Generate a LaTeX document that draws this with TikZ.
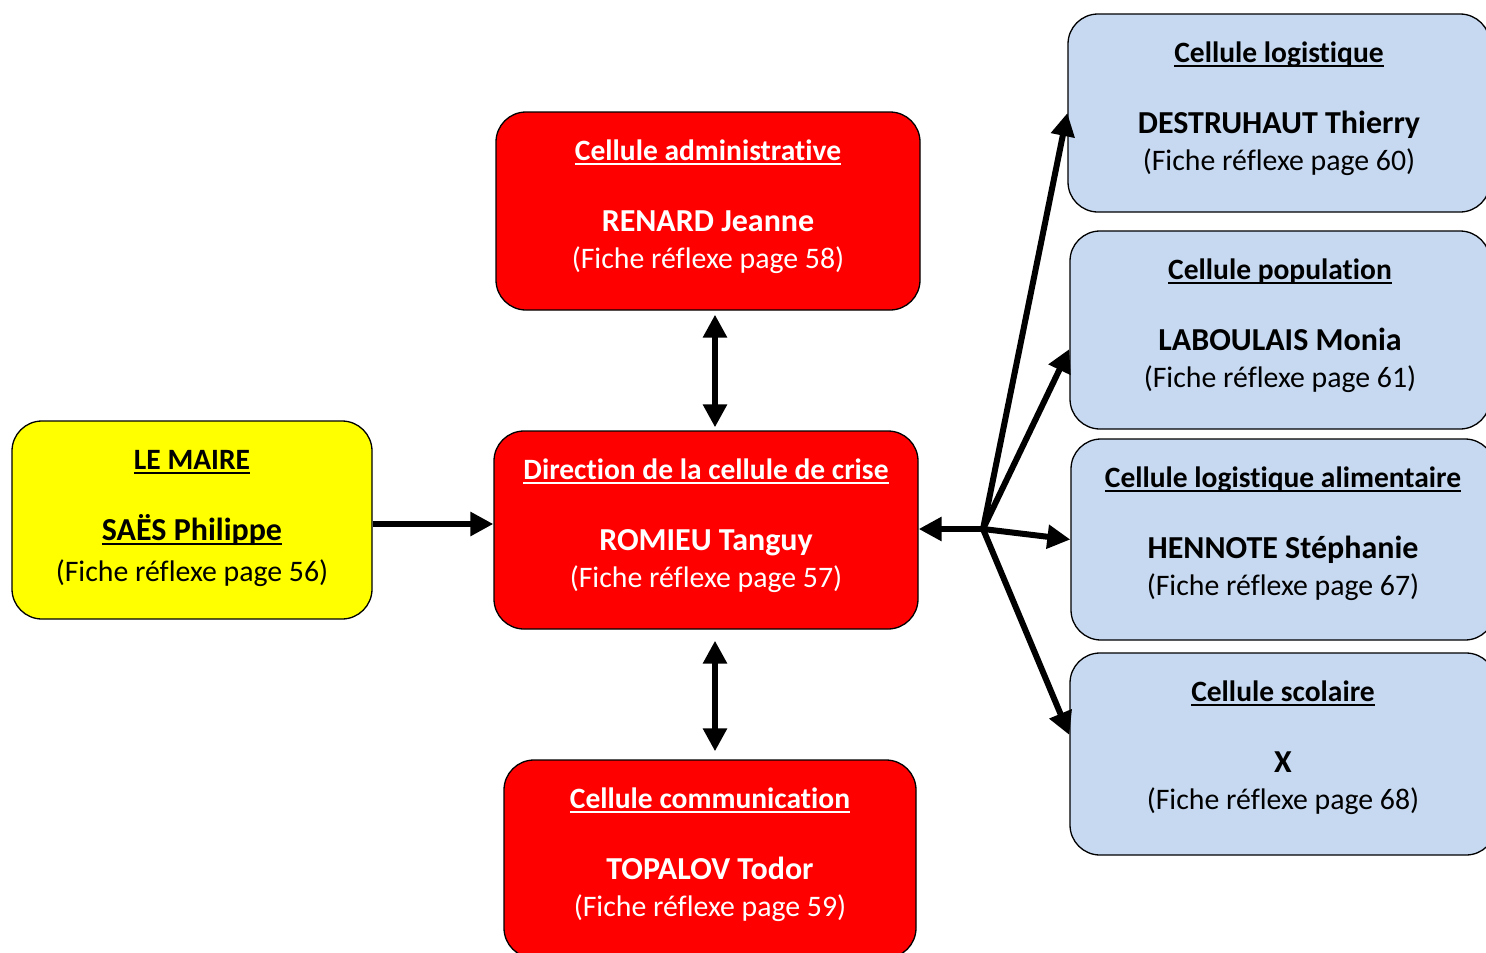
\documentclass[tikz,border=0pt]{standalone}
\usepackage{fontspec}
\setmainfont{Carlito}[Ligatures={NoCommon,NoContextual,NoRequired},Contextuals=NoAlternate]
\usetikzlibrary{arrows.meta}
\definecolor{cellred}{RGB}{255,0,0}
\definecolor{cellyellow}{RGB}{255,255,0}
\definecolor{cellblue}{RGB}{198,217,241}
\newcommand\myul[1]{\setbox0\hbox{#1}\rlap{\rule[-4.5pt]{\wd0}{2pt}}\box0}
\tikzset{
  bigtri/.tip={Triangle[length=23pt,width=23pt]},
  cellbox/.style={draw=black, line width=1.3pt, rounded corners=30pt, inner sep=0pt},
  red box/.style={fill=cellred}, red text/.style={text=white},
  yellow box/.style={fill=cellyellow}, yellow text/.style={text=black},
  blue box/.style={fill=cellblue}, blue text/.style={text=black},
  titletxt/.style={anchor=base, inner sep=0pt, font=\fontsize{29.5}{34}\selectfont\bfseries},
  nametxt/.style={anchor=base, inner sep=0pt, font=\fontsize{32}{36}\selectfont\bfseries},
  fichetxt/.style={anchor=base, inner sep=0pt, font=\fontsize{29.8}{34}\selectfont},
  arr/.style={line width=6.5pt, -bigtri},
  darr/.style={line width=6.5pt, bigtri-bigtri},
  fan/.style={line width=6pt, -bigtri}
}
% name, colour, centre x, top, width, height, title, person, fiche
\newcommand\mycell[9]{%
  \node[cellbox, #2 box, minimum width=#5pt, minimum height=#6pt] (#1) at (#3,{#4+#6/2}) {};
  \node[titletxt, #2 text] (#1-t) at (#3,{#4+48}) {\myul{#7}};
  \node[nametxt, #2 text] (#1-n) at (#3,{#4+119}) {#8};
  \node[fichetxt, #2 text] (#1-f) at (#3,{#4+156}) {#9};
}
\begin{document}
\begin{tikzpicture}[x=1pt,y=-1pt]
\useasboundingbox (0,0) rectangle (1486,953);
\clip (0,0) rectangle (1486,953);
\mycell{maire}{yellow}{192}{421}{360}{198}{LE MAIRE}{\myul{SAËS Philippe}}{\raisebox{-4pt}{(Fiche réflexe page 56)}}
\mycell{admin}{red}{708}{112}{424}{198}{Cellule administrative}{RENARD Jeanne}{(Fiche réflexe page 58)}
\mycell{dir}{red}{706}{431}{424}{198}{Direction de la cellule de crise}{ROMIEU Tanguy}{(Fiche réflexe page 57)}
\mycell{comm}{red}{710}{760}{412}{198}{Cellule communication}{TOPALOV Todor}{(Fiche réflexe page 59)}
\mycell{log}{blue}{1279}{14}{422}{198}{Cellule logistique}{DESTRUHAUT Thierry}{(Fiche réflexe page 60)}
\mycell{pop}{blue}{1280}{231}{420}{198}{Cellule population}{LABOULAIS Monia}{(Fiche réflexe page 61)}
\mycell{alim}{blue}{1283}{439}{424}{201}{Cellule logistique alimentaire}{HENNOTE Stéphanie}{(Fiche réflexe page 67)}
\mycell{scol}{blue}{1283}{653}{426}{202}{Cellule scolaire}{X}{(Fiche réflexe page 68)}
% connectors
\draw[arr] ([yshift=-4pt]maire.east) -- ([yshift=-4pt]maire.east -| dir.west);
\draw[darr, shorten <=4pt, shorten >=3pt] ([xshift=7pt]admin.south) -- ([xshift=7pt]admin.south |- dir.north);
\draw[darr, shorten <=11pt, shorten >=8pt] ([xshift=9pt]dir.south) -- ([xshift=9pt]dir.south |- comm.north);
\coordinate (hub) at (983,529);
\draw[arr] (hub) -- (hub -| dir.east);
\draw[fan] (hub) -- (log.west);
\draw[fan] (hub) -- ([yshift=-19pt]pop.west);
\draw[fan] (hub) -- (alim.west);
\draw[fan] (hub) -- ([yshift=19pt]scol.west);
\end{tikzpicture}
\end{document}
